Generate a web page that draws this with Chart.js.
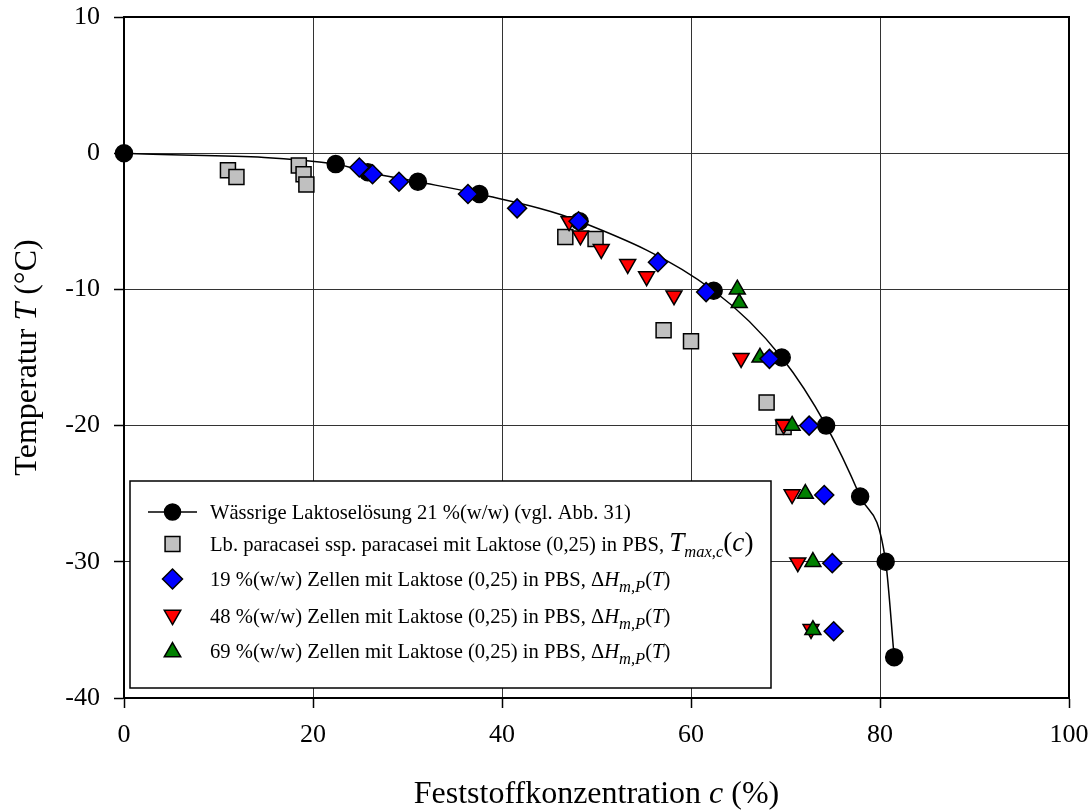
<!DOCTYPE html>
<html><head><meta charset="utf-8">
<script src="https://cdn.jsdelivr.net/npm/chart.js@4/dist/chart.umd.min.js"></script>
<style>html,body{margin:0;padding:0;background:#fff}#wrap{width:1091px;height:812px;position:relative}</style>
</head><body><div id="wrap"><canvas id="c"></canvas></div>
<script>
// ---- data ----
const xTickValues = [0, 20, 40, 60, 80, 100];
const yTickValues = [10, 0, -10, -20, -30, -40];

const lactoseX = [0, 22.4, 25.8, 31.1, 37.6, 48.2, 62.4, 69.6, 74.3, 77.9, 80.6, 81.5];
const lactoseY = [0, -0.8, -1.4, -2.1, -3.0, -5.0, -10.1, -15.0, -20.0, -25.2, -30.0, -37.0];

const tmaxX = [11.0, 11.9, 18.5, 19.0, 19.3, 46.7, 49.9, 57.1, 60.0, 68.0, 69.8];
const tmaxY = [-1.25, -1.75, -0.9, -1.55, -2.3, -6.15, -6.3, -13.0, -13.8, -18.3, -20.1];

const cells19X = [24.9, 26.3, 29.1, 36.4, 41.6, 48.1, 56.5, 61.6, 68.3, 72.5, 74.1, 74.95, 75.1];
const cells19Y = [-1.05, -1.55, -2.1, -3.0, -4.05, -5.0, -8.0, -10.2, -15.1, -20.0, -25.1, -30.1, -35.1];

const cells48X = [47.1, 48.3, 50.5, 53.3, 55.3, 58.2, 65.3, 69.8, 70.7, 71.3, 72.7];
const cells48Y = [-5.0, -6.05, -7.05, -8.15, -9.05, -10.45, -15.05, -19.95, -25.05, -30.05, -34.95];

const cells69X = [64.9, 65.1, 67.3, 70.7, 72.1, 72.9, 72.9];
const cells69Y = [-10.0, -11.0, -15.0, -20.0, -25.0, -30.0, -35.0];

const legendLabels = [
  [{t: 'Wässrige Laktoselösung 21 %(w/w) (vgl. Abb. 31)'}],
  [{t: 'Lb. paracasei ssp. paracasei mit Laktose (0,25) in PBS, '}, {t: 'T', i: 1, b: 1}, {t: 'max,c', i: 1, s: 1}, {t: '(', b: 1}, {t: 'c', i: 1, b: 1}, {t: ')', b: 1}],
  [{t: '19 %(w/w) Zellen mit Laktose (0,25) in PBS, Δ'}, {t: 'H', i: 1}, {t: 'm,P', i: 1, s: 1}, {t: '('}, {t: 'T', i: 1}, {t: ')'}],
  [{t: '48 %(w/w) Zellen mit Laktose (0,25) in PBS, Δ'}, {t: 'H', i: 1}, {t: 'm,P', i: 1, s: 1}, {t: '('}, {t: 'T', i: 1}, {t: ')'}],
  [{t: '69 %(w/w) Zellen mit Laktose (0,25) in PBS, Δ'}, {t: 'H', i: 1}, {t: 'm,P', i: 1, s: 1}, {t: '('}, {t: 'T', i: 1}, {t: ')'}]
];
const xTitle = [{t: 'Feststoffkonzentration '}, {t: 'c', i: 1}, {t: ' (%)'}];
const yTitle = [{t: 'Temperatur '}, {t: 'T', i: 1}, {t: ' (°C)'}];

const toPts = (xs, ys) => xs.map((x, k) => ({x: x, y: ys[k]}));
const SERIF = '"Liberation Serif", "Times New Roman", serif';

function segFont(seg, size) {
  let sz = size;
  if (seg.s) sz = size * 0.8;
  if (seg.b) sz = size * 1.32;
  return (seg.i ? 'italic ' : '') + sz.toFixed(1) + 'px ' + SERIF;
}
function segWidth(ctx, segs, size) {
  let w = 0;
  segs.forEach(s => { ctx.font = segFont(s, size); w += ctx.measureText(s.t).width; });
  return w;
}
function drawSegs(ctx, segs, x, y, size) {
  ctx.textBaseline = 'alphabetic';
  ctx.textAlign = 'left';
  segs.forEach(s => {
    ctx.font = segFont(s, size);
    ctx.fillText(s.t, x, y + (s.s ? size * 0.3 : 0));
    x += ctx.measureText(s.t).width;
  });
}
function marker(ctx, style, x, y, r, fill) {
  ctx.save();
  ctx.beginPath();
  if (style === 'circle') ctx.arc(x, y, r, 0, Math.PI * 2);
  else if (style === 'rect') { const h = r * Math.SQRT1_2; ctx.rect(x - h, y - h, 2 * h, 2 * h); }
  else if (style === 'diamond') { ctx.moveTo(x, y - r); ctx.lineTo(x + r, y); ctx.lineTo(x, y + r); ctx.lineTo(x - r, y); ctx.closePath(); }
  else if (style === 'up' || style === 'down') {
    const d = style === 'up' ? -1 : 1;
    ctx.moveTo(x, y + d * r);
    ctx.lineTo(x + r * 0.866, y - d * r / 2);
    ctx.lineTo(x - r * 0.866, y - d * r / 2);
    ctx.closePath();
  }
  ctx.fillStyle = fill; ctx.fill();
  ctx.lineWidth = 1.5; ctx.strokeStyle = '#000'; ctx.stroke();
  ctx.restore();
}

const decor = {
  id: 'decor',
  beforeDatasetsDraw(chart) {
    const {ctx, chartArea: a} = chart;
    ctx.save();
    ctx.strokeStyle = '#000'; ctx.lineWidth = 2;
    ctx.strokeRect(a.left, a.top, a.right - a.left, a.bottom - a.top);
    ctx.restore();
  },
  afterDraw(chart) {
    const {ctx, chartArea: a} = chart;
    ctx.save();
    ctx.fillStyle = '#000';
    // axis titles
    const ts = 32;
    const wx = segWidth(ctx, xTitle, ts);
    drawSegs(ctx, xTitle, (a.left + a.right) / 2 - wx / 2, 803, ts);
    const wy = segWidth(ctx, yTitle, ts);
    ctx.save();
    ctx.translate(36, (a.top + a.bottom) / 2);
    ctx.rotate(-Math.PI / 2);
    drawSegs(ctx, yTitle, -wy / 2, 0, ts);
    ctx.restore();
    // legend
    const bx = 130, by = 481, bw = 641, bh = 207;
    ctx.fillStyle = '#fff';
    ctx.fillRect(bx, by, bw, bh);
    ctx.strokeStyle = '#000'; ctx.lineWidth = 1.5;
    ctx.strokeRect(bx, by, bw, bh);
    const rows = [512, 544, 579, 616, 651];
    const mx = 172.5;
    ctx.beginPath(); ctx.moveTo(148, rows[0]); ctx.lineTo(197, rows[0]);
    ctx.lineWidth = 1.5; ctx.strokeStyle = '#000'; ctx.stroke();
    marker(ctx, 'circle', mx, rows[0], 8, '#000');
    marker(ctx, 'rect', mx, rows[1], 10.5, '#c0c0c0');
    marker(ctx, 'diamond', mx, rows[2], 10, '#0000ff');
    marker(ctx, 'down', mx, rows[3] - 1, 9.5, '#ff0000');
    marker(ctx, 'up', mx, rows[4] + 1, 9.5, '#008000');
    ctx.fillStyle = '#000';
    legendLabels.forEach((segs, k) => drawSegs(ctx, segs, 210, rows[k] + 7, 20.6));
    ctx.restore();
  }
};

const tickFont = {family: SERIF, size: 26};
const noPad = s => { s.paddingTop = 0; s.paddingBottom = 0; s.paddingLeft = 0; s.paddingRight = 0; };

new Chart(document.getElementById('c'), {
  type: 'scatter',
  data: {
    datasets: [
      {label: '19 %', data: toPts(cells19X, cells19Y), pointStyle: 'rectRot', pointRadius: 9.5, backgroundColor: '#0000ff', borderColor: '#000', borderWidth: 1.5, order: 1, clip: false},
      {label: '69 %', data: toPts(cells69X, cells69Y), pointStyle: 'triangle', pointRadius: 9.2, backgroundColor: '#008000', borderColor: '#000', borderWidth: 1.5, order: 2, clip: false},
      {label: '48 %', data: toPts(cells48X, cells48Y), pointStyle: 'triangle', rotation: 180, pointRadius: 9.2, backgroundColor: '#ff0000', borderColor: '#000', borderWidth: 1.5, order: 3, clip: false},
      {label: 'Tmax', data: toPts(tmaxX, tmaxY), pointStyle: 'rect', pointRadius: 10.6, backgroundColor: '#c0c0c0', borderColor: '#000', borderWidth: 1.5, order: 4, clip: false},
      {label: 'Laktose', data: toPts(lactoseX, lactoseY), showLine: true, cubicInterpolationMode: 'monotone', pointStyle: 'circle', pointRadius: 8.5, pointBackgroundColor: '#000', pointBorderColor: '#000', borderColor: '#000', borderWidth: 1.5, order: 5, clip: false}
    ]
  },
  options: {
    responsive: true, maintainAspectRatio: false, animation: false,
    layout: {padding: {left: 0, right: 22, top: 17, bottom: 0}},
    plugins: {legend: {display: false}, tooltip: {enabled: false}},
    scales: {
      x: {
        type: 'linear', min: 0, max: 100,
        afterBuildTicks: s => { s.ticks = xTickValues.map(v => ({value: v})); },
        afterFit: s => { s.height = 114; noPad(s); },
        ticks: {font: tickFont, color: '#000', padding: 12, maxRotation: 0},
        grid: {color: '#333', lineWidth: 1, tickColor: '#000', tickLength: 10, tickWidth: 1.5},
        border: {display: true, color: '#000', width: 2}
      },
      y: {
        type: 'linear', min: -40, max: 10,
        afterBuildTicks: s => { s.ticks = yTickValues.map(v => ({value: v})); },
        afterFit: s => { s.width = 124; noPad(s); },
        ticks: {font: tickFont, color: '#000', padding: 14},
        grid: {color: '#333', lineWidth: 1, tickColor: '#000', tickLength: 10, tickWidth: 1.5},
        border: {display: true, color: '#000', width: 2}
      }
    }
  },
  plugins: [decor]
});
</script></body></html>
